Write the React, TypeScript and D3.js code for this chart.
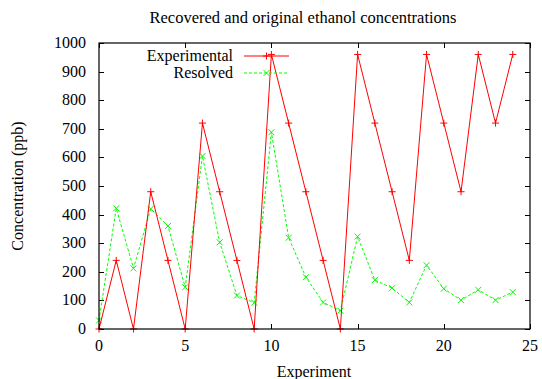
import React, { useRef, useEffect } from 'react';
import * as d3 from 'd3';

const experiments = d3.range(0, 25);
const experimental = [0, 240, 0, 480, 240, 0, 720, 480, 240, 0, 960, 720, 480, 240, 0, 960, 720, 480, 240, 960, 720, 480, 960, 720, 960];
const resolved = [30, 422, 212, 420, 360, 146, 605, 303, 117, 92, 688, 319, 181, 93, 64, 323, 171, 143, 93, 223, 141, 101, 137, 101, 129];
const xTicks = [0, 5, 10, 15, 20, 25];
const yTicks = d3.range(0, 1001, 100);

const App = () => {
    const svgRef = useRef(null);

    const width = 542;
    const height = 379;
    const margin = { top: 43, right: 12, bottom: 50, left: 99 };
    const font = '"Liberation Serif", "Times New Roman", serif';

    useEffect(() => {
        const svg = d3.select(svgRef.current);
        svg.selectAll("*").remove();

        const x = d3.scaleLinear().domain([0, 25]).range([margin.left, width - margin.right]);
        const y = d3.scaleLinear().domain([0, 1000]).range([height - margin.bottom, margin.top]);
        const [x0, x1] = x.range();
        const [y0, y1] = y.range();

        // title
        svg.append("text")
            .attr("x", 303).attr("y", 23)
            .attr("text-anchor", "middle")
            .attr("font-family", font).attr("font-size", 16.5)
            .text("Recovered and original ethanol concentrations");

        // ticks (mirrored on all sides)
        const g = svg.append("g").attr("stroke", "#000").attr("stroke-width", 1);
        yTicks.forEach((t) => {
            const yy = Math.round(y(t)) + 0.5;
            g.append("line").attr("x1", x0).attr("x2", x0 + 5).attr("y1", yy).attr("y2", yy);
            g.append("line").attr("x1", x1).attr("x2", x1 - 5).attr("y1", yy).attr("y2", yy);
        });
        xTicks.forEach((t) => {
            const xx = Math.round(x(t)) + 0.5;
            g.append("line").attr("x1", xx).attr("x2", xx).attr("y1", y0).attr("y2", y0 - 5);
            g.append("line").attr("x1", xx).attr("x2", xx).attr("y1", y1).attr("y2", y1 + 5);
        });

        // tick labels
        svg.append("g").selectAll("text").data(yTicks).enter().append("text")
            .attr("x", x0 - 13).attr("y", (d) => y(d) + 5)
            .attr("text-anchor", "end")
            .attr("font-family", font).attr("font-size", 16)
            .text((d) => d);
        svg.append("g").selectAll("text").data(xTicks).enter().append("text")
            .attr("x", (d) => x(d)).attr("y", y0 + 22)
            .attr("text-anchor", "middle")
            .attr("font-family", font).attr("font-size", 16)
            .text((d) => d);

        // axis labels
        svg.append("text")
            .attr("transform", `translate(23, ${(y0 + y1) / 2}) rotate(-90)`)
            .attr("text-anchor", "middle")
            .attr("font-family", font).attr("font-size", 16)
            .text("Concentration (ppb)");
        svg.append("text")
            .attr("x", 314).attr("y", y0 + 48)
            .attr("text-anchor", "middle")
            .attr("font-family", font).attr("font-size", 16)
            .text("Experiment");

        const line = d3.line().x((d) => x(d[0])).y((d) => y(d[1]));
        const redData = experiments.map((e, i) => [e, experimental[i]]);
        const greenData = experiments.map((e, i) => [e, resolved[i]]);

        const plus = (sel, cx, cy, color) => {
            sel.append("path")
                .attr("d", `M${cx - 3.5},${cy}H${cx + 3.5}M${cx},${cy - 3.5}V${cy + 3.5}`)
                .attr("stroke", color).attr("stroke-width", 1).attr("fill", "none");
        };
        const cross = (sel, cx, cy, color) => {
            sel.append("path")
                .attr("d", `M${cx - 3},${cy - 3}L${cx + 3},${cy + 3}M${cx - 3},${cy + 3}L${cx + 3},${cy - 3}`)
                .attr("stroke", color).attr("stroke-width", 1).attr("fill", "none");
        };

        const plot = svg.append("g");

        // resolved series
        plot.append("path").datum(greenData)
            .attr("d", line).attr("fill", "none")
            .attr("stroke", "#00ff00").attr("stroke-width", 1).attr("stroke-dasharray", "3,2");
        greenData.forEach((d) => cross(plot, x(d[0]), y(d[1]), "#00ff00"));

        // experimental series
        plot.append("path").datum(redData)
            .attr("d", line).attr("fill", "none")
            .attr("stroke", "#ff0000").attr("stroke-width", 1);
        redData.forEach((d) => plus(plot, x(d[0]), y(d[1]), "#ff0000"));

        // legend
        const legend = svg.append("g");
        const legendItems = [
            { label: "Experimental", yy: 56, color: "#ff0000", dash: null, mark: plus },
            { label: "Resolved", yy: 73, color: "#00ff00", dash: "3,2", mark: cross },
        ];
        legendItems.forEach((it) => {
            legend.append("text")
                .attr("x", 233).attr("y", it.yy + 5)
                .attr("text-anchor", "end")
                .attr("font-family", font).attr("font-size", 16)
                .text(it.label);
            legend.append("line")
                .attr("x1", 244).attr("x2", 289).attr("y1", it.yy).attr("y2", it.yy)
                .attr("stroke", it.color).attr("stroke-dasharray", it.dash);
            it.mark(legend, 266.5, it.yy, it.color);
        });

        // frame
        svg.append("rect")
            .attr("x", x0).attr("y", y1)
            .attr("width", x1 - x0).attr("height", y0 - y1)
            .attr("fill", "none").attr("stroke", "#000").attr("stroke-width", 1.2);
    }, []);

    return (
        <div style={{ position: 'absolute', left: 0, top: 0 }}>
            <svg ref={svgRef} width={width} height={height} style={{ display: 'block', background: '#fff' }}></svg>
        </div>
    );
};
export default App;
